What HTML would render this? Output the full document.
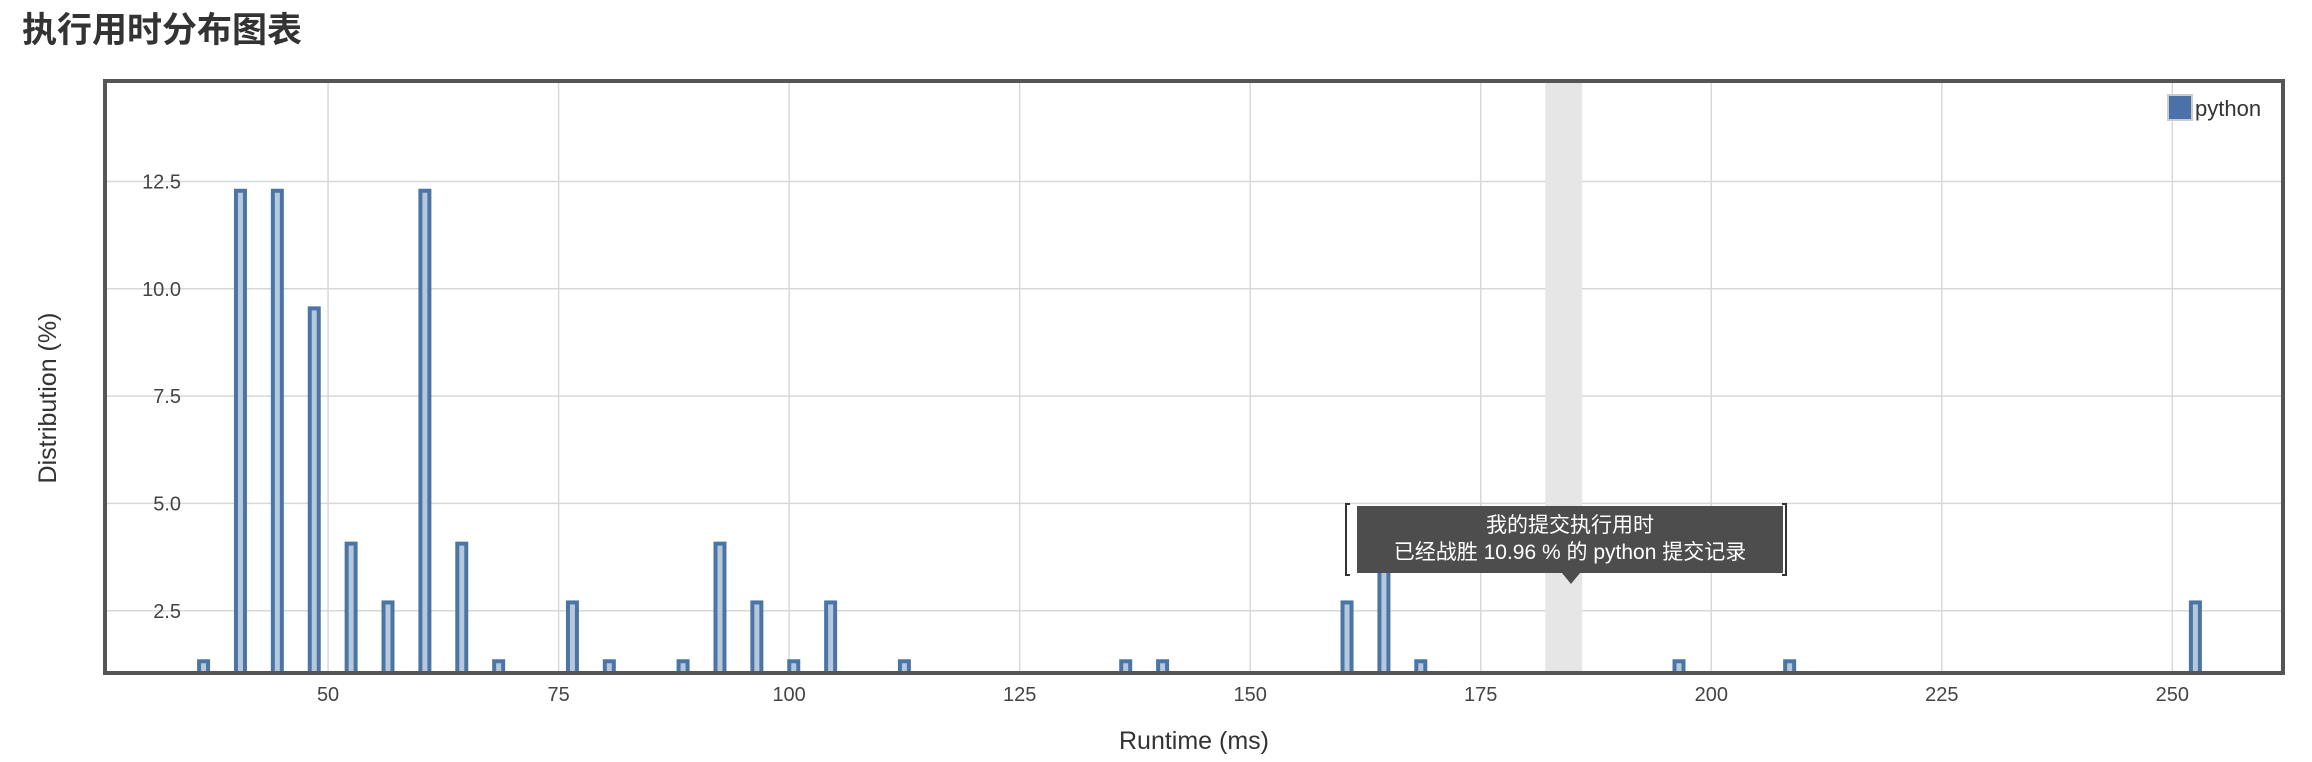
<!DOCTYPE html>
<html><head><meta charset="utf-8">
<style>
html,body{margin:0;padding:0;background:#fff;width:2312px;height:762px;overflow:hidden}
svg{display:block}
text{font-family:"Liberation Sans","Noto Sans CJK SC",sans-serif}
</style></head>
<body>
<svg id="chart" width="2312" height="762" viewBox="0 0 2312 762">
<text x="22" y="42" font-size="35" font-weight="bold" fill="#333">执行用时分布图表</text>
<g id="grid"></g>
<rect id="hl" y="82" height="590" fill="#e6e6e6"></rect>
<g id="bars"></g>
<rect x="105" y="81" width="2178" height="592" fill="none" stroke="#555" stroke-width="4"></rect>
<g id="ticks"></g>
<text transform="translate(56,398) rotate(-90)" text-anchor="middle" font-size="25" fill="#333">Distribution (%)</text>
<text x="1194" y="749" text-anchor="middle" font-size="25" fill="#333">Runtime (ms)</text>
<g>
<rect x="2168" y="95" width="24" height="25" fill="#4a72a8" stroke="#ccc" stroke-width="2"></rect>
<text x="2195" y="116" font-size="22" fill="#333">python</text>
</g>
<g>
<path d="M1350 504 h-4 v71 h4 M1782 504 h4 v71 h-4" fill="none" stroke="#333" stroke-width="2"/>
<rect x="1357" y="506" width="426" height="67" fill="#4d4d4d"></rect>
<path d="M1562 573 L1580 573 L1571 584 Z" fill="#4d4d4d"/>
<text x="1570" y="532" text-anchor="middle" font-size="21" fill="#fff">我的提交执行用时</text>
<text x="1570" y="559" text-anchor="middle" font-size="21" fill="#fff">已经战胜 10.96 % 的 python 提交记录</text>
</g>
</svg>
<script>
const runtimes = [36.5,40.5,44.5,48.5,52.5,56.5,60.5,64.5,68.5,76.5,80.5,88.5,92.5,96.5,100.5,104.5,112.5,136.5,140.5,160.5,164.5,168.5,196.5,208.5,252.5];
const distribution = [1.37,12.33,12.33,9.59,4.11,2.74,12.33,4.11,1.37,2.74,1.37,1.37,4.11,2.74,1.37,2.74,1.37,1.37,1.37,2.74,4.11,1.37,1.37,1.37,2.74];
const xTicks = [50,75,100,125,150,175,200,225,250];
const yTicks = [2.5,5.0,7.5,10.0,12.5];
const yTickLabels = ["2.5","5.0","7.5","10.0","12.5"];
const highlightRange = [182,186];

const X0=105,X1=2283,Y0=673,Y1=81;
const xMin=25.81,xMax=262.0,yMin=1.05,yMax=14.84;
function xs(v){return X0+(v-xMin)/(xMax-xMin)*(X1-X0);}
function ys(v){return Y0-(v-yMin)/(yMax-yMin)*(Y0-Y1);}
const NS="http://www.w3.org/2000/svg";
const grid=document.getElementById('grid'),ticks=document.getElementById('ticks'),bars=document.getElementById('bars');
xTicks.forEach(t=>{
  const l=document.createElementNS(NS,'line');
  
  
  l.setAttribute('x1',xs(t));l.setAttribute('x2',xs(t));l.setAttribute('y1',Y1);l.setAttribute('y2',Y0);
  l.setAttribute('stroke','#d8d8d8');l.setAttribute('stroke-width','1.5');grid.appendChild(l);
  const tx=document.createElementNS(NS,'text');
  
  
  tx.setAttribute('x',xs(t));tx.setAttribute('y',701);tx.setAttribute('text-anchor','middle');
  tx.setAttribute('font-size','20');tx.setAttribute('fill','#444');tx.textContent=t;ticks.appendChild(tx);
});
yTicks.forEach((t,i)=>{
  const l=document.createElementNS(NS,'line');
  
  
  l.setAttribute('x1',X0);l.setAttribute('x2',X1);l.setAttribute('y1',ys(t));l.setAttribute('y2',ys(t));
  l.setAttribute('stroke','#d8d8d8');l.setAttribute('stroke-width','1.5');grid.appendChild(l);
  const tx=document.createElementNS(NS,'text');
  
  
  tx.setAttribute('x',181);tx.setAttribute('y',ys(t)+7);tx.setAttribute('text-anchor','end');
  tx.setAttribute('font-size','20');tx.setAttribute('fill','#444');tx.textContent=yTickLabels[i];ticks.appendChild(tx);
});
const hl=document.getElementById('hl');
hl.setAttribute('x',xs(highlightRange[0]));hl.setAttribute('width',xs(highlightRange[1])-xs(highlightRange[0]));
runtimes.forEach((r,i)=>{
  const b=document.createElementNS(NS,'rect');
  
  
  const cx=xs(r),top=ys(distribution[i]);
  b.setAttribute('x',cx-4.5);b.setAttribute('width',9);
  b.setAttribute('y',top+2);b.setAttribute('height',Math.max(0,Y0-top-2));
  b.setAttribute('fill','#b6c9dc');b.setAttribute('stroke','#4a75a5');b.setAttribute('stroke-width','4');
  bars.appendChild(b);
});
</script>
</body></html>
